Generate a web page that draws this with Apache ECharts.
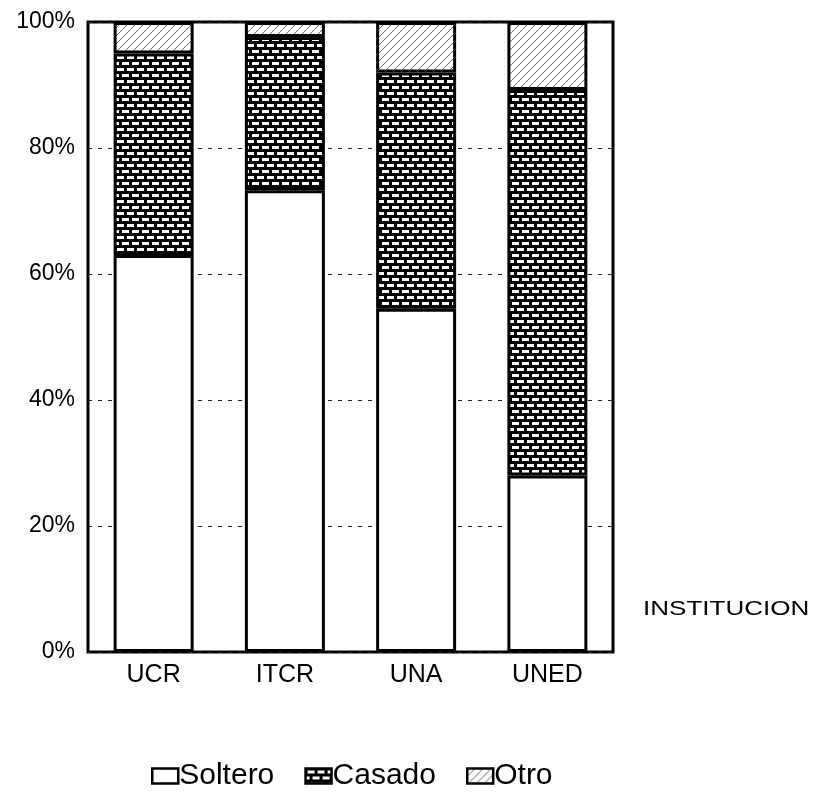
<!DOCTYPE html>
<html>
<head>
<meta charset="utf-8">
<script src="https://cdn.jsdelivr.net/npm/echarts@6/dist/echarts.min.js"></script>
<style>html,body{margin:0;padding:0;background:#fff}#c{width:815px;height:792px}</style>
</head>
<body>
<div id="c"></div>
<script>
var categories = ['UCR', 'ITCR', 'UNA', 'UNED'];
var soltero = [63, 73.3, 54.5, 28];
var casado = [32, 24.3, 37.5, 61.2];
var otro = [5, 2.4, 8, 10.8];
var yTicks = [0, 20, 40, 60, 80, 100];
var seriesNames = ['Soltero', 'Casado', 'Otro'];

function brickPattern() {
  var c = document.createElement('canvas');
  c.width = 20; c.height = 12;
  var g = c.getContext('2d');
  g.fillStyle = '#000'; g.fillRect(0, 0, 20, 12);
  g.fillStyle = '#fff';
  g.fillRect(2, 2, 7, 3); g.fillRect(12, 2, 7, 3);
  g.fillRect(-3, 8, 7, 3); g.fillRect(7, 8, 7, 3); g.fillRect(17, 8, 7, 3);
  return c;
}
function hatchPattern() {
  var c = document.createElement('canvas');
  c.width = 8; c.height = 8;
  var g = c.getContext('2d');
  g.fillStyle = '#fff'; g.fillRect(0, 0, 8, 8);
  g.strokeStyle = '#666'; g.lineWidth = 1;
  g.beginPath();
  g.moveTo(0, 8); g.lineTo(8, 0);
  g.moveTo(-4, 4); g.lineTo(4, -4);
  g.moveTo(4, 12); g.lineTo(12, 4);
  g.stroke();
  return c;
}
var fills = ['#ffffff', {image: brickPattern(), repeat: 'repeat'}, {image: hatchPattern(), repeat: 'repeat'}];
var dataSets = [soltero, casado, otro];

var chart = echarts.init(document.getElementById('c'));
var font = '"Liberation Sans", Arial, sans-serif';
chart.setOption({
  animation: false,
  backgroundColor: '#fff',
  grid: {left: 88, right: 202, top: 22, bottom: 140, show: true, borderColor: '#000', borderWidth: 3, backgroundColor: 'transparent'},
  legend: {
    top: 756, left: 146, itemWidth: 26, itemHeight: 15, itemGap: 30, icon: 'rect',
    data: seriesNames,
    textStyle: {fontFamily: font, fontSize: 30, color: '#000', padding: [0, 0, 0, -4]},
    itemStyle: {borderColor: '#000', borderWidth: 2.5}
  },
  xAxis: {
    type: 'category', data: categories,
    axisLine: {show: false}, axisTick: {show: false},
    axisLabel: {fontFamily: font, fontSize: 25, color: '#000', margin: 11}
  },
  yAxis: {
    type: 'value', min: yTicks[0], max: yTicks[yTicks.length - 1], interval: 20,
    axisLine: {show: false}, axisTick: {show: false},
    axisLabel: {formatter: '{value}%', fontFamily: font, fontSize: 23, color: '#000', margin: 13},
    splitLine: {show: true, lineStyle: {color: '#222', width: 1, type: [4, 6]}}
  },
  graphic: [{type: 'text', x: 643, y: 599, scaleX: 1.24, style: {text: 'INSTITUCION', font: '21px "Liberation Sans", Arial, sans-serif', fill: '#000'}}],
  series: seriesNames.map(function (n, i) {
    return {
      name: n, type: 'bar', stack: 'total', barWidth: 80, data: dataSets[i],
      itemStyle: {color: fills[i], borderColor: '#000', borderWidth: 3}
    };
  })
});
</script>
</body>
</html>
